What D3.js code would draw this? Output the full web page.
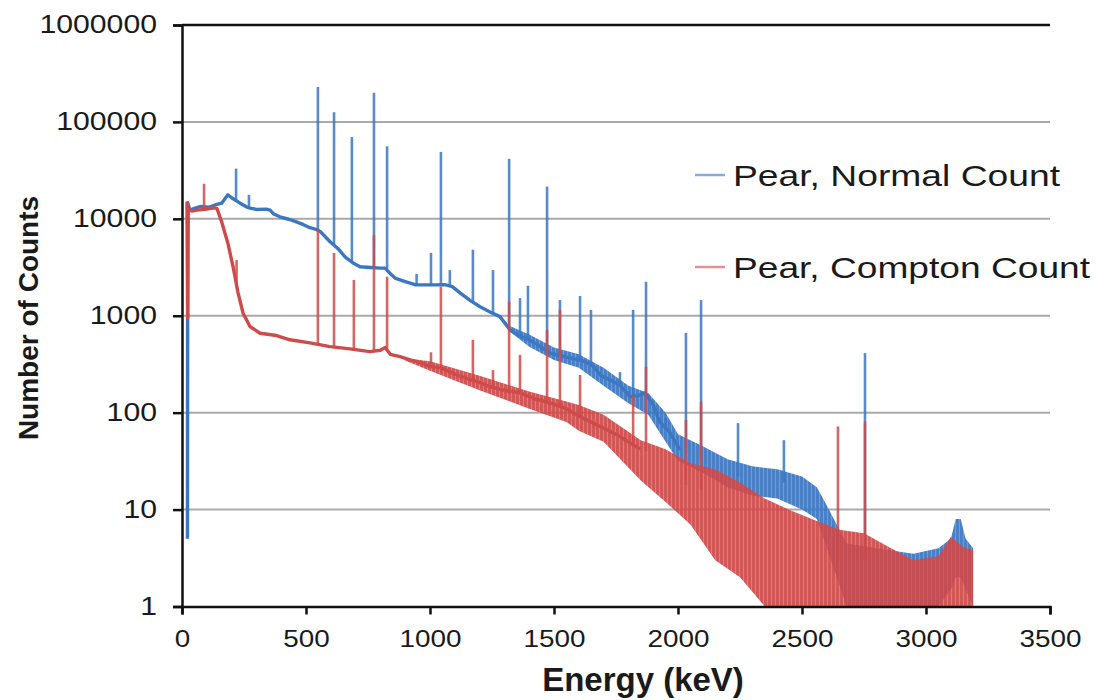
<!DOCTYPE html>
<html>
<head>
<meta charset="utf-8">
<script src="https://cdn.jsdelivr.net/npm/d3@7"></script>
<style>
  body { margin: 0; background: #fff; }
  svg text { font-family: "Liberation Sans", Arial, Helvetica, sans-serif; fill: #1a1a1a; }
</style>
</head>
<body>
<svg id="chart" width="1100" height="700"></svg>
<script>
// tick labels
const yTicks = [1, 10, 100, 1000, 10000, 100000, 1000000];
const xTicks = [0, 500, 1000, 1500, 2000, 2500, 3000, 3500];

// [energy keV, counts] smooth part of the spectrum
const normalContinuum = [
  [22, 5], [23, 14700], [32, 12300], [50, 12800], [73, 13400], [110, 13200], [133, 13900],
  [160, 14500], [185, 17700], [200, 16500], [234, 14500], [260, 13300], [274, 12900],
  [300, 12500], [340, 12600], [355, 12300], [370, 11200], [395, 10500], [430, 9900],
  [456, 9400], [490, 8700], [516, 8100], [540, 7800], [560, 7300], [597, 5800], [630, 4900],
  [657, 4060], [690, 3500], [718, 3200], [760, 3150], [800, 3100], [819, 3100], [835, 2800],
  [859, 2450], [900, 2250], [940, 2090], [980, 2080], [1020, 2080], [1060, 2090], [1090, 2000],
  [1121, 1720], [1160, 1450], [1202, 1240], [1240, 1100], [1282, 980], [1323, 713], [1360, 620],
  [1403, 560], [1440, 490], [1484, 413], [1520, 390], [1565, 367], [1620, 340], [1660, 300],
  [1686, 245], [1730, 215], [1766, 193], [1806, 146], [1840, 150], [1867, 160], [1900, 120],
  [1927, 80], [1968, 62], [2008, 41]
];
const comptonContinuum = [
  [20, 15000], [23, 950], [25, 12500], [40, 12000], [60, 12300], [100, 12600], [130, 13000],
  [141, 12800], [161, 9100], [185, 5600], [206, 3200], [226, 1720], [246, 1070], [274, 775],
  [315, 660], [375, 630], [435, 565], [516, 525], [597, 480], [677, 455], [758, 426],
  [800, 440], [819, 470], [840, 400], [879, 378], [920, 350], [960, 330], [1000, 300],
  [1044, 290], [1100, 250], [1150, 225], [1200, 205], [1242, 185], [1300, 170], [1363, 160],
  [1420, 140], [1484, 126], [1550, 110], [1605, 91], [1686, 72], [1760, 58], [1847, 42]
];

// [energy keV, base counts, peak counts]
const normalPeaks = [
  [218, 15800, 33000], [270, 13000, 17700], [548, 7700, 230000], [613, 5500, 126000],
  [685, 3600, 70000], [774, 3150, 200000], [827, 3050, 56000], [946, 2100, 2700],
  [1004, 2080, 4460], [1044, 2080, 49000], [1080, 2050, 2960], [1173, 1400, 4800],
  [1254, 1050, 2960], [1319, 740, 41600], [1363, 620, 1520], [1395, 570, 2040],
  [1472, 420, 21500], [1524, 390, 1450], [1605, 345, 1600], [1649, 320, 1150],
  [1766, 193, 262], [1819, 148, 1150], [1871, 158, 2240], [1952, 70, 88], [2032, 38, 665],
  [2093, 32, 1450], [2242, 22, 78], [2427, 19, 52], [2754, 3, 412]
];
const comptonPeaks = [
  [89, 12400, 23000], [220, 2200, 3750], [548, 510, 7900], [613, 475, 4450], [693, 455, 2340],
  [774, 430, 6800], [827, 460, 2530], [1004, 300, 420], [1044, 290, 2000], [1173, 220, 565],
  [1254, 182, 275], [1319, 168, 1400], [1363, 160, 395], [1472, 128, 715], [1524, 115, 1150],
  [1605, 91, 245], [1819, 45, 150], [1871, 40, 297], [2032, 18, 84], [2093, 16, 130],
  [2645, 3, 72], [2754, 3, 81]
];

// [energy keV, low, high] spread of the noisy channels
const normalNoise = [
  [1280, 950, 1010], [1320, 690, 790], [1400, 480, 640], [1500, 350, 470], [1600, 290, 400],
  [1700, 190, 290], [1800, 125, 190], [1880, 95, 160], [1950, 50, 100], [2000, 32, 60],
  [2100, 24, 45], [2200, 17, 33], [2300, 14, 28], [2400, 13, 26], [2500, 10, 22], [2560, 8, 17],
  [2600, 4, 11], [2640, 2, 7], [2680, 1, 4.5], [2800, 1, 4], [2950, 1, 3.5], [3050, 1, 4],
  [3100, 1.5, 5], [3120, 2, 8], [3140, 2, 8], [3160, 1.5, 5], [3190, 1, 4]
];
const comptonNoise = [
  [900, 345, 365], [1000, 270, 340], [1200, 170, 240], [1400, 110, 165], [1550, 80, 130],
  [1600, 65, 120], [1700, 50, 95], [1850, 20, 52], [1950, 12, 42], [2050, 7, 30],
  [2150, 3, 26], [2250, 2, 19], [2350, 1, 13], [2450, 1, 9.9], [2550, 1, 7.8], [2650, 1, 6.2],
  [2750, 1, 5.7], [2850, 1, 4.1], [2950, 1, 3], [3050, 1, 3.3], [3100, 1, 5.2], [3150, 1, 4.1],
  [3190, 1, 3.8]
];

const seriesNames = ['Pear, Normal Count', 'Pear, Compton Count'];
const blue = '#3b77c2', red = '#cf4a4a';

const svg = d3.select('#chart');
const x = d3.scaleLinear().domain([0, 3500]).range([182, 1050]);
const y = d3.scaleLog().domain([1, 1000000]).range([606.5, 25]);

// faint vertical-stroke texture for the noisy parts
const defs = svg.append('defs');
[['blueNoise', blue], ['redNoise', red]].forEach(([id, c]) => {
  const p = defs.append('pattern')
    .attr('id', id)
    .attr('patternUnits', 'userSpaceOnUse')
    .attr('width', 4).attr('height', 10);
  p.append('rect').attr('x', 0).attr('width', 3).attr('height', 10).attr('fill', c).attr('fill-opacity', 0.92);
  p.append('rect').attr('x', 3).attr('width', 1).attr('height', 10).attr('fill', c).attr('fill-opacity', 0.72);
});

// gridlines
svg.append('g').selectAll('line')
  .data(yTicks.slice(1))
  .join('line')
  .attr('x1', x(0)).attr('x2', x(3500))
  .attr('y1', d => y(d)).attr('y2', d => y(d))
  .attr('stroke', d => d === 1000000 ? '#111' : '#a9a9a9')
  .attr('stroke-width', d => d === 1000000 ? 2.5 : 2);

const line = d3.line().x(d => x(d[0])).y(d => y(d[1]));
const band = d3.area().x(d => x(d[0])).y0(d => y(d[1])).y1(d => y(d[2]));

function drawSeries(cont, peaks, noise, color, pat) {
  const g = svg.append('g');
  g.append('path').datum(noise)
    .attr('d', band)
    .attr('fill', `url(#${pat})`);
  g.append('path').datum(cont)
    .attr('d', line)
    .attr('fill', 'none')
    .attr('stroke', color)
    .attr('stroke-width', 3.4)
    .attr('stroke-linejoin', 'round');
  g.selectAll('line.peak')
    .data(peaks)
    .join('line')
    .attr('class', 'peak')
    .attr('x1', d => x(d[0])).attr('x2', d => x(d[0]))
    .attr('y1', d => y(d[1])).attr('y2', d => y(d[2]))
    .attr('stroke', color)
    .attr('stroke-width', 2.6)
    .attr('stroke-opacity', 0.85);
}
drawSeries(normalContinuum, normalPeaks, normalNoise, blue, 'blueNoise');
drawSeries(comptonContinuum, comptonPeaks, comptonNoise, red, 'redNoise');

// axes
const yAxis = svg.append('g')
  .attr('transform', `translate(${x(0)},0)`)
  .call(d3.axisLeft(y).tickValues(yTicks).tickFormat(d3.format('d')).tickSize(9).tickPadding(16));
yAxis.selectAll('text')
  .style('font-size', '26.5px')
  .attr('dy', '0.3em')
  .attr('textLength', d => String(d).length * 16.8)
  .attr('lengthAdjust', 'spacingAndGlyphs');

const xAxis = svg.append('g')
  .attr('transform', `translate(0,${y(1)})`)
  .call(d3.axisBottom(x).tickValues(xTicks).tickFormat(d3.format('d')).tickSize(8).tickPadding(15));
xAxis.selectAll('text')
  .style('font-size', '24.5px')
  .attr('textLength', d => String(d).length * 15.5)
  .attr('lengthAdjust', 'spacingAndGlyphs');

[yAxis, xAxis].forEach(a => {
  a.select('.domain').attr('stroke', '#111').attr('stroke-width', 2.5);
  a.selectAll('.tick line').attr('stroke', '#111').attr('stroke-width', 2.5);
});

// axis titles
svg.append('text')
  .attr('x', 643).attr('y', 691)
  .attr('text-anchor', 'middle')
  .style('font-size', '33px').style('font-weight', 'bold')
  .text('Energy (keV)');
svg.append('text')
  .attr('transform', 'translate(38,318) rotate(-90)')
  .attr('text-anchor', 'middle')
  .style('font-size', '28px').style('font-weight', 'bold')
  .text('Number of Counts');

// legend
const legend = svg.append('g');
const rows = legend.selectAll('g')
  .data(seriesNames)
  .join('g')
  .attr('transform', (d, i) => `translate(695,${175 + i * 92})`);
rows.append('line')
  .attr('x1', 0).attr('x2', 30)
  .attr('stroke', (d, i) => i === 0 ? blue : red)
  .attr('stroke-opacity', 0.6)
  .attr('stroke-width', 2.5);
rows.append('text')
  .attr('x', 38).attr('y', 11)
  .style('font-size', '30px')
  .attr('textLength', (d, i) => i === 0 ? 327 : 357)
  .attr('lengthAdjust', 'spacingAndGlyphs')
  .text(d => d);
</script>
</body>
</html>
